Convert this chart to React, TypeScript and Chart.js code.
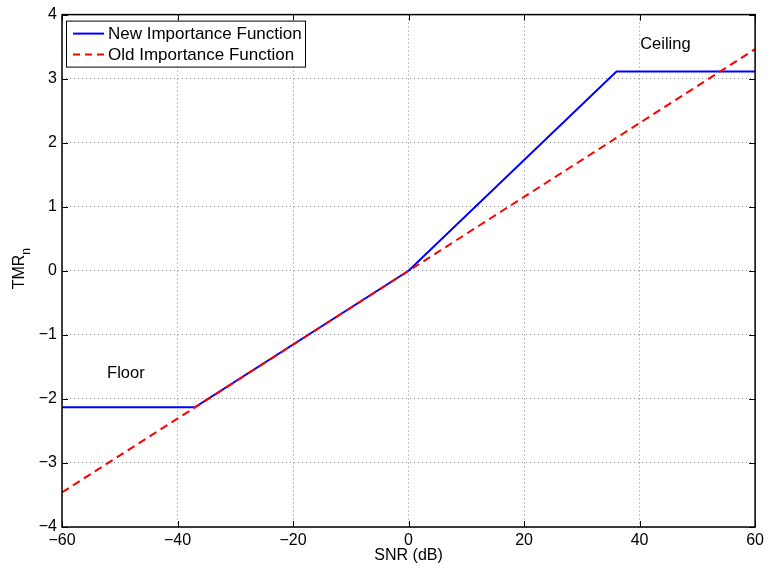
import React, { useEffect, useRef } from "react";
import { Chart, registerables } from "chart.js";

Chart.register(...registerables);

const newX = [-60, -37, 0, 36, 60];
const newY = [-2.13, -2.13, 0, 3.11, 3.11];
const oldX = [-60, 60];
const oldY = [-3.46, 3.46];
const xTicks = [-60, -40, -20, 0, 20, 40, 60];
const yTicks = [-4, -3, -2, -1, 0, 1, 2, 3, 4];
const seriesNames = ["New Importance Function", "Old Importance Function"];
const annotations = [
  { text: "Floor", x: -52.2, y: -1.6 },
  { text: "Ceiling", x: 40.1, y: 3.54 },
];

const FONT = "'Liberation Sans', Arial, sans-serif";
const fmt = (v: number) => (v < 0 ? "\u2212" + Math.abs(v) : String(v));

const decorPlugin = {
  id: "decor",
  afterDraw(chart: any) {
    const { ctx, chartArea: a, scales } = chart;
    const xs = scales.x, ys = scales.y;
    ctx.save();
    // inward ticks
    ctx.strokeStyle = "#000";
    ctx.lineWidth = 1;
    ctx.beginPath();
    xTicks.forEach((t) => {
      const px = Math.round(xs.getPixelForValue(t)) + 0.5;
      ctx.moveTo(px, a.bottom); ctx.lineTo(px, a.bottom - 6);
      ctx.moveTo(px, a.top); ctx.lineTo(px, a.top + 6);
    });
    yTicks.forEach((t) => {
      const py = Math.round(ys.getPixelForValue(t)) + 0.5;
      ctx.moveTo(a.left, py); ctx.lineTo(a.left + 6, py);
      ctx.moveTo(a.right, py); ctx.lineTo(a.right - 6, py);
    });
    ctx.stroke();
    // border
    ctx.lineWidth = 1.5;
    ctx.strokeRect(a.left, a.top, a.right - a.left, a.bottom - a.top);
    // annotations
    ctx.fillStyle = "#000";
    ctx.font = `16.5px ${FONT}`;
    ctx.textAlign = "left";
    ctx.textBaseline = "middle";
    annotations.forEach((an) => {
      ctx.fillText(an.text, xs.getPixelForValue(an.x), ys.getPixelForValue(an.y));
    });
    // x title
    ctx.font = `16px ${FONT}`;
    ctx.textAlign = "center";
    ctx.fillText("SNR (dB)", (a.left + a.right) / 2, 556);
    // legend
    const lx = a.left + 4, ly = a.top + 6, lw = 239, lh = 46;
    ctx.fillStyle = "#fff";
    ctx.fillRect(lx, ly, lw, lh);
    ctx.lineWidth = 1;
    ctx.strokeStyle = "#000";
    ctx.strokeRect(lx + 0.5, ly + 0.5, lw, lh);
    const colors = ["#0000ff", "#ff0000"];
    const dashes = [[], [7, 5]];
    seriesNames.forEach((name, i) => {
      const yy = ly + 13 + i * 21;
      ctx.strokeStyle = colors[i];
      ctx.lineWidth = 2;
      ctx.setLineDash(dashes[i]);
      ctx.beginPath();
      ctx.moveTo(lx + 7, yy); ctx.lineTo(lx + 38, yy);
      ctx.stroke();
      ctx.setLineDash([]);
      ctx.fillStyle = "#000";
      ctx.font = `17px ${FONT}`;
      ctx.textAlign = "left";
      ctx.textBaseline = "middle";
      ctx.fillText(name, lx + 42, yy + 1);
    });
    // y title with subscript
    ctx.save();
    ctx.translate(20, 272);
    ctx.rotate(-Math.PI / 2);
    ctx.font = `16px ${FONT}`;
    const main = "TMR";
    const w1 = ctx.measureText(main).width;
    ctx.fillStyle = "#000";
    ctx.textAlign = "left";
    ctx.textBaseline = "middle";
    ctx.fillText(main, -w1 / 2, 0);
    ctx.font = `12px ${FONT}`;
    ctx.fillText("n", w1 / 2, 7);
    ctx.restore();
    ctx.restore();
  },
};

export default function App() {
  const ref = useRef<HTMLCanvasElement>(null);
  useEffect(() => {
    if (!ref.current) return;
    const chart = new Chart(ref.current, {
      type: "line",
      data: {
        datasets: [
          {
            label: seriesNames[0],
            data: newX.map((x, i) => ({ x, y: newY[i] })),
            borderColor: "#0000ff",
            borderWidth: 2,
            pointRadius: 0,
            fill: false,
            tension: 0,
            order: 1,
          },
          {
            label: seriesNames[1],
            data: oldX.map((x, i) => ({ x, y: oldY[i] })),
            borderColor: "#ff0000",
            borderWidth: 2,
            borderDash: [8, 5],
            pointRadius: 0,
            fill: false,
            tension: 0,
            order: 0,
          },
        ],
      },
      options: {
        animation: false,
        responsive: false,
        layout: { padding: { top: 7, right: 10, left: 0, bottom: 0 } },
        plugins: { legend: { display: false }, tooltip: { enabled: false } },
        scales: {
          x: {
            type: "linear",
            min: -60,
            max: 60,
            afterBuildTicks: (s: any) => { s.ticks = xTicks.map((v) => ({ value: v })); },
            afterFit: (s: any) => { s.height = 39; },
            grid: { color: "#888", drawTicks: false, lineWidth: 1 },
            border: { display: false, dash: [1, 3] },
            ticks: { callback: (v: any) => fmt(Number(v)), color: "#000", font: { family: FONT, size: 16 }, padding: 4, maxRotation: 0 },
          },
          y: {
            type: "linear",
            min: -4,
            max: 4,
            afterBuildTicks: (s: any) => { s.ticks = yTicks.map((v) => ({ value: v })); },
            afterFit: (s: any) => { s.width = 62; },
            grid: { color: "#888", drawTicks: false, lineWidth: 1 },
            border: { display: false, dash: [1, 3] },
            ticks: { callback: (v: any) => fmt(Number(v)), color: "#000", font: { family: FONT, size: 16 }, padding: 5 },
          },
        },
      } as any,
      plugins: [decorPlugin],
    });
    return () => chart.destroy();
  }, []);
  return (
    <div style={{ position: "absolute", left: 0, top: 0, width: 768, height: 566, background: "#fff" }}>
      <canvas ref={ref} width={768} height={566} style={{ width: 768, height: 566 }} />
    </div>
  );
}
